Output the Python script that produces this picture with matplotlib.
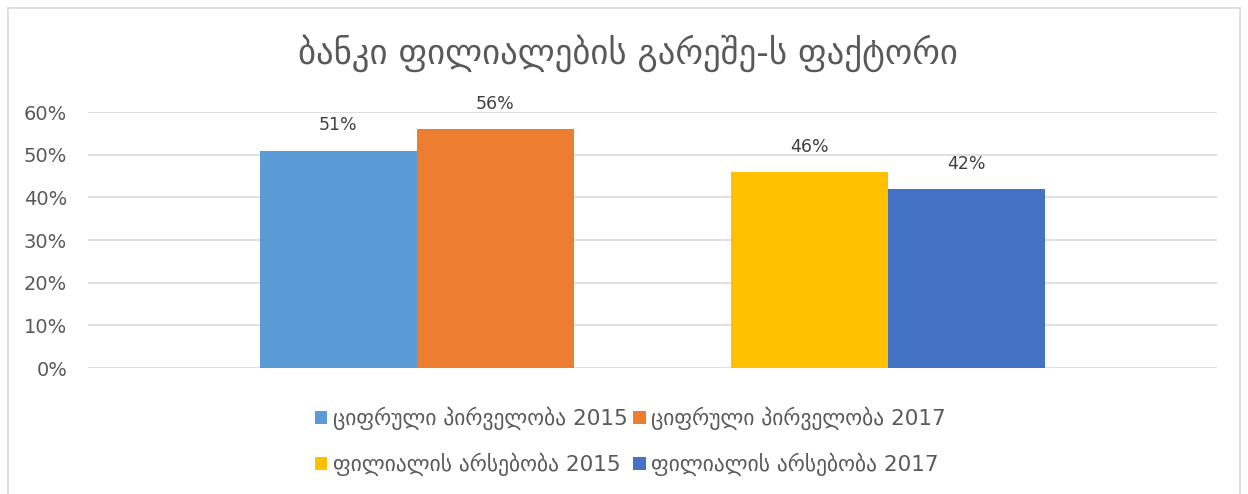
import matplotlib
matplotlib.use("Agg")
import matplotlib.pyplot as plt
from matplotlib.patches import Rectangle
from matplotlib.ticker import PercentFormatter

title = "ბანკი ფილიალების გარეშე-ს ფაქტორი"
series = ["ციფრული პირველობა 2015", "ციფრული პირველობა 2017",
          "ფილიალის არსებობა 2015", "ფილიალის არსებობა 2017"]
values = [0.51, 0.56, 0.46, 0.42]
colors = ["#5B9BD5", "#ED7D31", "#FFC000", "#4472C4"]
yticks = [0, 0.1, 0.2, 0.3, 0.4, 0.5, 0.6]

plt.rcParams['font.family'] = ['DejaVu Sans']
text_col = "#595959"

fig = plt.figure(figsize=(12.48, 4.94), dpi=100)
ax = fig.add_axes([0.0705, 0.255, 0.9045, 0.518])

# one empty slot between the two pairs of bars
slots = [0, 1, 3, 4]
handles = []
for s, v, c, name in zip(slots, values, colors, series):
    b = ax.bar(s, v, width=1.0, color=c, label=name, zorder=3)
    handles.append(b)
    ax.text(s, v + 0.038, f"{v:.0%}", ha="center", va="bottom",
            fontsize=12.5, color="#404040", clip_on=False)

ax.set_xlim(2 - 3.595, 2 + 3.595)
ax.set_ylim(0, 0.6)
ax.set_yticks(yticks)
ax.yaxis.set_major_formatter(PercentFormatter(1.0, decimals=0))
ax.set_xticks([])
ax.tick_params(axis="y", length=0, labelsize=14, labelcolor=text_col, pad=15)
ax.grid(axis="y", color="#D9D9D9", linewidth=1.2, zorder=0)
for sp in ax.spines.values():
    sp.set_visible(False)

fig.text(0.503, 0.893, title, ha="center", va="center", fontsize=25,
         color=text_col)

# legend is filled column by column, so reorder to read across rows
order = [0, 2, 1, 3]
leg = fig.legend(handles=[handles[i] for i in order],
                 labels=[series[i] for i in order], ncol=2, loc="center",
                 bbox_to_anchor=(0.505, 0.106), frameon=False,
                 fontsize=15.5, handlelength=0.6, handleheight=0.6,
                 handletextpad=0.25, columnspacing=0.25, labelspacing=1.05,
                 labelcolor=text_col)

fig.patches.append(Rectangle((8 / 1248, -0.01), 1232 / 1248, 1 - 8 / 494 + 0.01,
                             transform=fig.transFigure, fill=False,
                             edgecolor="#D9D9D9", linewidth=1.2))

fig.savefig("out.png", dpi=100)
